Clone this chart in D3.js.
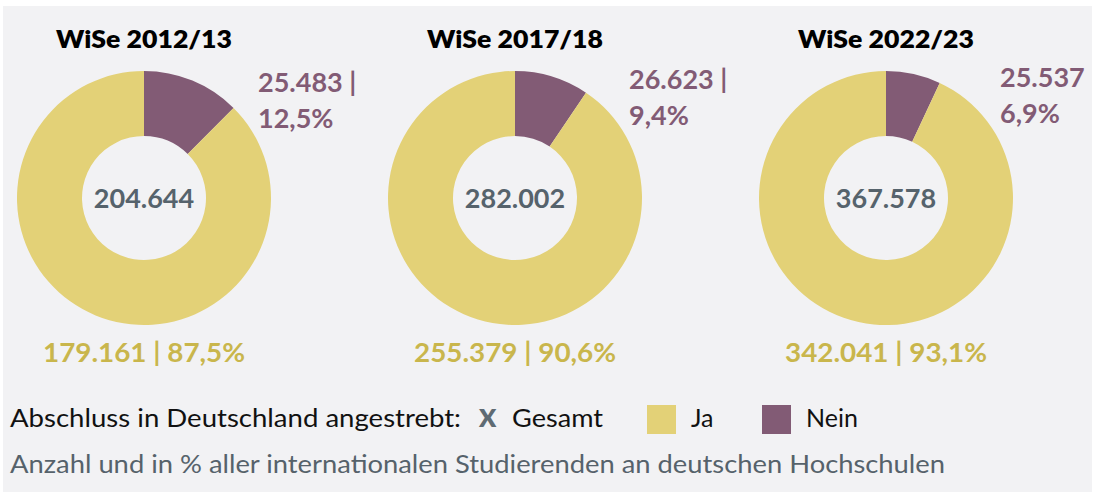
<!DOCTYPE html>
<html>
<head>
<meta charset="utf-8">
<script src="https://cdn.jsdelivr.net/npm/d3@7"></script>
<style>
  html, body { margin: 0; padding: 0; background: #ffffff; }
  svg { display: block; font-family: Lato, "Noto Sans", sans-serif; }
</style>
</head>
<body>
<div id="chart"></div>
<script>
// Daten
var semesters = ["WiSe 2012/13", "WiSe 2017/18", "WiSe 2022/23"];
var gesamt = [204644, 282002, 367578];
var ja = [179161, 255379, 342041];
var nein = [25483, 26623, 25537];
var jaPct = [87.5, 90.6, 93.1];
var neinPct = [12.5, 9.4, 6.9];
// the third "Nein" label has no separator in the original
var neinSep = [" |", " |", ""];
var legendItems = ["Ja", "Nein"];

var width = 1093, height = 492;
var colors = { Ja: "#e3d177", Nein: "#825b75" };
var jaText = "#c9b64c", centerText = "#56636c";

var de = d3.formatLocale({ decimal: ",", thousands: ".", grouping: [3], currency: ["", " €"] });
var fmtN = de.format(",d");
var fmtP = function(v) { return de.format(".1f")(v) + "%"; };

var svg = d3.select("#chart").append("svg")
  .attr("width", width)
  .attr("height", height);

svg.append("rect")
  .attr("x", 3).attr("y", 6)
  .attr("width", width - 4).attr("height", height - 6)
  .attr("fill", "#f2f2f4");

// stretch/squeeze a text to the width it has in the original
function fit(sel, w) {
  var n = sel.node().getComputedTextLength();
  if (Math.abs(n - w) / w > 0.02) sel.attr("textLength", w).attr("lengthAdjust", "spacingAndGlyphs");
}

var x = d3.scalePoint().domain(semesters).range([144, 886]);
var cy = 198, rOuter = 127, rInner = 62;

var pie = d3.pie().sort(null).value(function(d) { return d.value; });
var arc = d3.arc().innerRadius(rInner).outerRadius(rOuter);

semesters.forEach(function(sem, i) {
  var g = svg.append("g").attr("transform", "translate(" + x(sem) + "," + cy + ")");
  var slices = pie([{ key: "Nein", value: nein[i] }, { key: "Ja", value: ja[i] }]);

  g.selectAll("path").data(slices).enter().append("path")
    .attr("d", arc)
    .attr("fill", function(d) { return colors[d.data.key]; });

  var t = g.append("text")
    .attr("x", 0).attr("y", 48 - cy)
    .attr("text-anchor", "middle")
    .attr("font-size", 25).attr("font-weight", 800)
    .attr("fill", "#000")
    .text(sem);
  fit(t, 176);

  var c = g.append("text")
    .attr("x", 0).attr("y", 10)
    .attr("text-anchor", "middle")
    .attr("font-size", 27).attr("font-weight", 700)
    .attr("fill", centerText)
    .text(fmtN(gesamt[i]));
  fit(c, 100);

  // Nein label, height follows the slice centroid
  var cen = arc.centroid(slices[0]);
  var ny = cen[1] - 19;
  var n1 = g.append("text")
    .attr("x", 114).attr("y", ny)
    .attr("font-size", 27).attr("font-weight", 700)
    .attr("fill", colors.Nein)
    .text(fmtN(nein[i]) + neinSep[i]);
  g.append("text")
    .attr("x", 114).attr("y", ny + 36)
    .attr("font-size", 27).attr("font-weight", 700)
    .attr("fill", colors.Nein)
    .text(fmtP(neinPct[i]));

  var j = g.append("text")
    .attr("x", 0).attr("y", 362 - cy)
    .attr("text-anchor", "middle")
    .attr("font-size", 27).attr("font-weight", 700)
    .attr("fill", jaText)
    .text(fmtN(ja[i]) + " | " + fmtP(jaPct[i]));
  fit(j, 202);
});

// Legende
var leg = svg.append("g");
var l1 = leg.append("text")
  .attr("x", 10).attr("y", 427)
  .attr("font-size", 25).attr("fill", "#111")
  .text("Abschluss in Deutschland angestrebt:");
fit(l1, 451);

leg.append("text")
  .attr("x", 479).attr("y", 427)
  .attr("font-size", 25).attr("font-weight", 800)
  .attr("fill", "#5f6b73")
  .text("X");
var gs = leg.append("text")
  .attr("x", 512).attr("y", 427)
  .attr("font-size", 25).attr("fill", "#111")
  .text("Gesamt");
fit(gs, 91);

var lx = d3.scalePoint().domain(legendItems).range([647, 762]);
legendItems.forEach(function(k) {
  leg.append("rect")
    .attr("x", lx(k)).attr("y", 405)
    .attr("width", 29).attr("height", 29)
    .attr("fill", colors[k]);
  leg.append("text")
    .attr("x", lx(k) + 44).attr("y", 427)
    .attr("font-size", 25).attr("fill", "#111")
    .text(k);
});

var sub = svg.append("text")
  .attr("x", 10).attr("y", 473)
  .attr("font-size", 25).attr("fill", "#56626b")
  .text("Anzahl und in % aller internationalen Studierenden an deutschen Hochschulen");
fit(sub, 935);
</script>
</body>
</html>
